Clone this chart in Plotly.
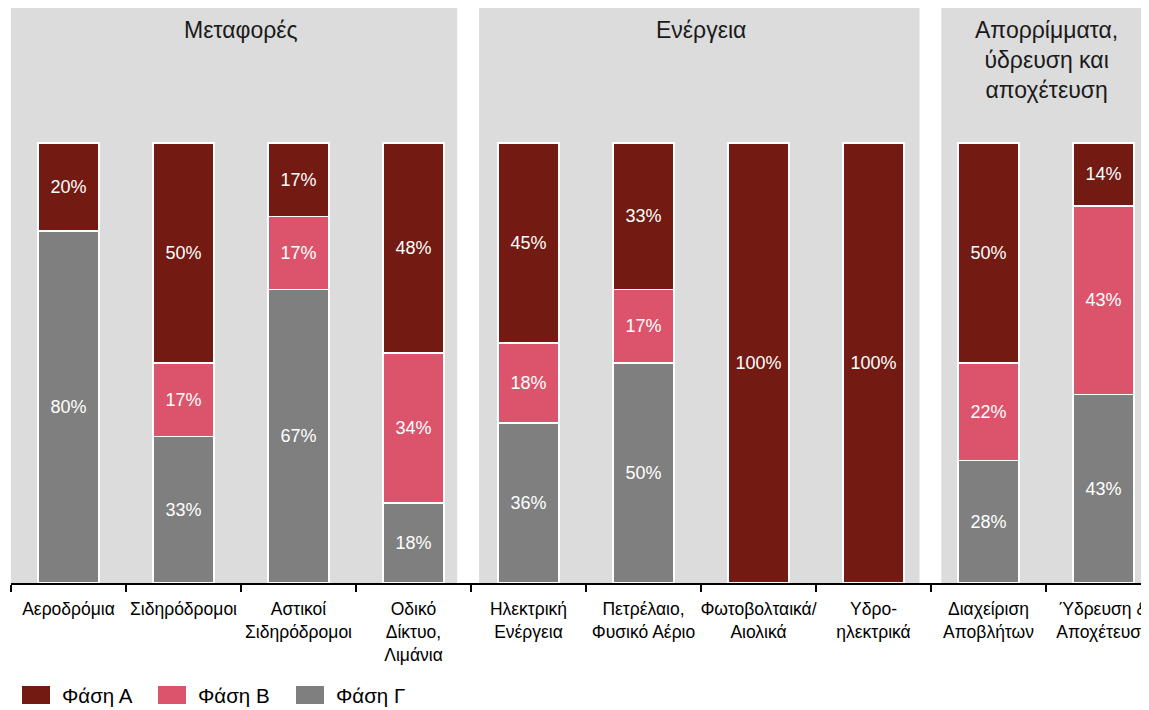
import plotly.graph_objects as go

categories = [
    "Αεροδρόμια", "Σιδηρόδρομοι", "Αστικοί<br>Σιδηρόδρομοι", "Οδικό<br>Δίκτυο,<br>Λιμάνια",
    "Ηλεκτρική<br>Ενέργεια", "Πετρέλαιο,<br>Φυσικό Αέριο", "Φωτοβολταικά/<br>Αιολικά",
    "Υδρο-<br>ηλεκτρικά", "Διαχείριση<br>Αποβλήτων", "Ύδρευση &<br>Αποχέτευση",
]
phase_a = [20, 50, 16.67, 47.7, 45.4, 33.33, 100, 100, 50, 14.3]
phase_b = [0, 16.67, 16.67, 34.1, 18.2, 16.67, 0, 0, 22.2, 42.85]
phase_c = [80, 33.33, 66.67, 18.2, 36.4, 50, 0, 0, 27.8, 42.85]

groups = ["Μεταφορές", "Ενέργεια", "Απορρίμματα,<br>ύδρευση και<br>αποχέτευση"]
group_spans = [(-0.51, 3.38), (3.57, 7.40), (7.59, 9.6)]
group_centers = [1.5, 5.5, 8.5]

phase_names = ["Φάση Α", "Φάση Β", "Φάση Γ"]
colors = ["#731A12", "#DC546C", "#7F7F7F"]

FONT = "Liberation Sans, Arial"
# the page body adds an 8px offset, so the figure is sized to fit inside the window
PLOT_H = 575
PX_PER_PCT = 4.4
ymax = PLOT_H / PX_PER_PCT

fig = go.Figure()

series = [phase_a, phase_b, phase_c]
for i in [2, 1, 0]:
    vals = series[i]
    fig.add_trace(
        go.Bar(
            x=categories,
            y=vals,
            name=phase_names[i],
            marker=dict(color=colors[i], line=dict(color="white", width=1.5)),
            text=[f"{v:.0f}%" if v > 0 else "" for v in vals],
            textposition="inside",
            insidetextanchor="middle",
            textangle=0,
            textfont=dict(color="white", size=18, family=FONT),
            width=0.53,
            hoverinfo="skip",
            showlegend=False,
        )
    )

for (x0, x1) in group_spans:
    fig.add_shape(type="rect", xref="x", yref="y", x0=x0, x1=x1, y0=0, y1=ymax,
                  fillcolor="#DCDCDC", line=dict(width=0), layer="below")

for g, cx in zip(groups, group_centers):
    fig.add_annotation(x=cx, y=(583 - 15) / PX_PER_PCT, xref="x", yref="y", text=g,
                       showarrow=False, yanchor="top",
                       font=dict(size=23, color="#1a1a1a", family=FONT))

# legend drawn as swatches + labels below the axis
leg_x = [22, 158, 296]
for name, col, px in zip(phase_names, colors, leg_x):
    fig.add_shape(type="rect", xref="paper", yref="paper",
                  x0=(px - 11) / 1138, x1=(px + 28 - 11) / 1138,
                  y0=(583 - 704) / PLOT_H, y1=(583 - 686) / PLOT_H,
                  fillcolor=col, line=dict(width=0))
    fig.add_annotation(xref="paper", yref="paper", x=(px + 38 - 11) / 1138,
                       y=(583 - 695) / PLOT_H, text=name, showarrow=False,
                       xanchor="left", yanchor="middle",
                       font=dict(size=20.5, color="black", family=FONT))

fig.update_layout(
    barmode="stack",
    width=1141,
    height=702,
    margin=dict(l=3, r=0, t=0, b=702 - PLOT_H, autoexpand=False),
    plot_bgcolor="white",
    paper_bgcolor="white",
    font=dict(family=FONT, color="black"),
    uniformtext=dict(minsize=10, mode="show"),
    showlegend=False,
    xaxis=dict(
        type="category",
        range=[-0.5, -0.5 + 1138 / 115],
        automargin=False,
        showline=True,
        linecolor="black",
        linewidth=2,
        ticks="outside",
        tickson="boundaries",
        ticklen=7,
        tickcolor="black",
        tickwidth=2,
        tickangle=0,
        ticklabelstandoff=9,
        tickfont=dict(size=17.5),
        showgrid=False,
    ),
    yaxis=dict(range=[0, ymax], visible=False, showgrid=False, automargin=False),
)

fig.write_html("out.html")
